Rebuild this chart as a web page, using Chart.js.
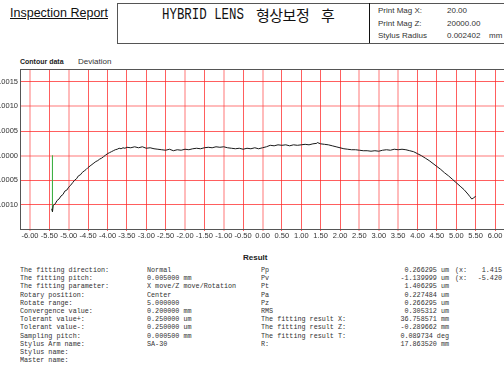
<!DOCTYPE html>
<html>
<head>
<meta charset="utf-8">
<script src="https://cdn.jsdelivr.net/npm/chart.js@4.4.1/dist/chart.umd.min.js"></script>
<style>
html, body { margin: 0; padding: 0; background: #fff; overflow: hidden; }
body { width: 504px; height: 372px; position: relative; font-family: "Liberation Sans", Arial, sans-serif; color: #222; }
.a { position: absolute; white-space: pre; }
#report { left: 10px; top: 6px; font-size: 12.5px; line-height: 14px; text-decoration: underline; color: #111; }
#box { left: 117px; top: 3px; width: 420px; height: 39px; border: 1px solid #555; }
#divider { left: 369px; top: 3px; width: 1px; height: 40px; background: #111; }
#titleEn { left: 162px; top: 5px; font-family: "Liberation Mono", monospace; font-size: 17px; line-height: 20px; transform: scaleX(0.73); transform-origin: left top; color: #111; }
#titleKo { left: 256px; top: 5px; font-family: "Noto Sans CJK KR", sans-serif; font-size: 15px; line-height: 20px; letter-spacing: -0.5px; word-spacing: 9px; color: #111; }
.mag { font-size: 8px; line-height: 12.5px; color: #333; }
#contour { left: 20px; top: 57px; font-size: 7px; font-weight: bold; line-height: 10px; }
#deviation { left: 78px; top: 57px; font-size: 8px; line-height: 10px; color: #333; }
#result { left: 243px; top: 253px; font-size: 8px; font-weight: bold; line-height: 10px; }
.mono { font-family: "Liberation Mono", monospace; font-size: 7.5px; line-height: 8.2px; color: #333; transform: scaleX(0.9); }
.ml { transform-origin: left top; }
.mr { transform-origin: right top; text-align: right; }
canvas { position: absolute; left: 0; top: 60px; }
</style>
</head>
<body>
<div class="a" id="report">Inspection Report</div>
<div class="a" id="box"></div>
<div class="a" id="divider"></div>
<div class="a" id="titleEn">HYBRID LENS</div>
<div class="a" id="titleKo">형상보정 후</div>
<div class="a mag" style="left:378px;top:5px">Print Mag X:
Print Mag Z:
Stylus Radius</div>
<div class="a mag" style="left:447px;top:5px">20.00
20000.00
0.002402</div>
<div class="a mag" style="left:489px;top:30px">mm</div>
<div class="a" id="contour">Contour data</div>
<div class="a" id="deviation">Deviation</div>
<canvas id="c" width="504" height="185"></canvas>
<div class="a" id="result">Result</div>
<div class="a mono ml" style="left:20px;top:266px">The fitting direction:
The fitting pitch:
The fitting parameter:
Rotary position:
Rotate range:
Convergence value:
Tolerant value+:
Tolerant value-:
Sampling pitch:
Stylus Arm name:
Stylus name:
Master name:</div>
<div class="a mono ml" style="left:147px;top:266px">Normal
0.005000 mm
X move/Z move/Rotation
Center
5.000000
0.200000 mm
0.250000 um
0.250000 um
0.000500 mm
SA-30</div>
<div class="a mono ml" style="left:261px;top:266px">Pp
Pv
Pt
Pa
Pz
RMS
The fitting result X:
The fitting result Z:
The fitting result T:
R:</div>
<div class="a mono mr" style="right:55px;top:266px">0.266295 um
-1.139999 um
1.406295 um
0.227484 um
0.266295 um
0.305312 um
36.758571 mm
-0.289662 mm
0.089734 deg
17.863520 mm</div>
<div class="a mono ml" style="left:455px;top:266px">(x:
(x:</div>
<div class="a mono mr" style="right:2px;top:266px">1.415
-5.420</div>
<script>
// measured profile deviation (mm) along X (mm)
const xPos = [-5.44, -5.42, -5.40, -5.35, -5.30, -5.25, -5.20, -5.15, -5.10, -5.05,
  -5.00, -4.95, -4.90, -4.85, -4.80, -4.75, -4.70, -4.65, -4.60, -4.55,
  -4.50, -4.45, -4.40, -4.35, -4.30, -4.25, -4.20, -4.15, -4.10, -4.05,
  -4.00, -3.95, -3.90, -3.85, -3.80, -3.75, -3.70, -3.65, -3.60, -3.55,
  -3.50, -3.40, -3.30, -3.20, -3.10, -3.00, -2.90, -2.80, -2.70, -2.60,
  -2.50, -2.40, -2.30, -2.20, -2.10, -2.00, -1.90, -1.80, -1.70, -1.60,
  -1.50, -1.40, -1.30, -1.20, -1.10, -1.00, -0.90, -0.80, -0.70, -0.60,
  -0.50, -0.40, -0.30, -0.20, -0.10, 0.00, 0.10, 0.20, 0.30, 0.40,
  0.50, 0.60, 0.70, 0.80, 0.90, 1.00, 1.10, 1.20, 1.30, 1.40,
  1.415, 1.50, 1.60, 1.70, 1.80, 1.90, 2.00, 2.10, 2.20, 2.30,
  2.40, 2.50, 2.60, 2.70, 2.80, 2.90, 3.00, 3.10, 3.20, 3.30,
  3.40, 3.50, 3.60, 3.70, 3.80, 3.90, 4.00, 4.10, 4.20, 4.30,
  4.40, 4.50, 4.60, 4.70, 4.80, 4.90, 5.00, 5.10, 5.20, 5.30,
  5.35, 5.40, 5.45, 5.50];
const deviation = [-0.00108, -0.00114, -0.00101, -0.00098, -0.00091, -0.00088, -0.00082, -0.00079, -0.00072, -0.00070,
  -0.00064, -0.00060, -0.00055, -0.00050, -0.00047, -0.00041, -0.00039, -0.00034, -0.00031, -0.00028,
  -0.00024, -0.00021, -0.00018, -0.00015, -0.00012, -0.00010, -0.00007, -0.00005, -0.00002, 0.00001,
  0.00004, 0.00006, 0.00008, 0.00010, 0.00012, 0.00013, 0.00015, 0.00014, 0.00016, 0.00015,
  0.00017, 0.00016, 0.00018, 0.00016, 0.00018, 0.00015, 0.00016, 0.00014, 0.00013, 0.00012,
  0.00011, 0.00013, 0.00010, 0.00012, 0.00011, 0.00013, 0.00012, 0.00014, 0.00015, 0.00014,
  0.00016, 0.00017, 0.00016, 0.00018, 0.00017, 0.00018, 0.00016, 0.00015, 0.00014, 0.00015,
  0.00013, 0.00015, 0.00014, 0.00016, 0.00014, 0.00016, 0.00018, 0.00021, 0.00020, 0.00022,
  0.00021, 0.00022, 0.00020, 0.00022, 0.00021, 0.00022, 0.00023, 0.00022, 0.00024, 0.00025,
  0.000266, 0.00024, 0.00023, 0.00022, 0.00020, 0.00018, 0.00016, 0.00014, 0.00013, 0.00012,
  0.00012, 0.00011, 0.00010, 0.00010, 0.00009, 0.00010, 0.00009, 0.00011, 0.00012, 0.00011,
  0.00013, 0.00012, 0.00013, 0.00012, 0.00010, 0.00008, 0.00004, 0.00000, -0.00005, -0.00010,
  -0.00016, -0.00022, -0.00028, -0.00035, -0.00041, -0.00048, -0.00055, -0.00062, -0.00069, -0.00078,
  -0.00083, -0.00088, -0.00086, -0.00082];

// Pv marker (green)
const pvX = [-5.42, -5.42];
const pvY = [0, -0.00114];

// axis tick values
const xTickValues = [-6, -5.5, -5, -4.5, -4, -3.5, -3, -2.5, -2, -1.5, -1, -0.5, 0,
  0.5, 1, 1.5, 2, 2.5, 3, 3.5, 4, 4.5, 5, 5.5, 6];
const yTickValues = [-0.0010, -0.0005, 0, 0.0005, 0.0010, 0.0015];

// grid lines that look faded in the print
const xFaded = [-6, -5, -2, -1, 0, 2.5, 3, 3.5];
const yFaded = [0.0010, 0];

const gridRed = 'rgba(255,40,40,0.75)';
const gridPink = 'rgba(255,60,60,0.35)';
const isIn = (list, v) => list.some(t => Math.abs(t - v) < 1e-9);

new Chart(document.getElementById('c'), {
    type: 'line',
    data: {
        datasets: [{
            data: xPos.map((x, i) => ({ x: x, y: deviation[i] })),
            borderColor: '#1a1a1a',
            borderWidth: 1,
            pointRadius: 0,
            tension: 0
        }, {
            data: pvX.map((x, i) => ({ x: x, y: pvY[i] })),
            borderColor: '#3fb044',
            borderWidth: 1,
            pointRadius: 0
        }]
    },
    options: {
        responsive: false,
        animation: false,
        devicePixelRatio: 1,
        layout: { padding: { top: 9, left: 0, right: 0, bottom: 0 } },
        plugins: {
            legend: { display: false },
            tooltip: { enabled: false }
        },
        scales: {
            x: {
                type: 'linear',
                min: -6.258,
                max: 6.232,
                afterBuildTicks(s) { s.ticks = xTickValues.map(v => ({ value: v })); },
                afterFit(s) { s.height = 16; s.paddingLeft = 0; s.paddingRight = 0; },
                ticks: {
                    autoSkip: false,
                    maxRotation: 0,
                    padding: 0,
                    color: '#333',
                    font: { family: 'Liberation Sans', size: 7.5 },
                    callback: v => v.toFixed(2)
                },
                grid: {
                    color: ctx => isIn(xFaded, ctx.tick.value) ? gridPink : gridRed,
                    lineWidth: ctx => isIn(xFaded, ctx.tick.value) ? 2 : 1,
                    tickLength: 2
                },
                border: { color: '#555', width: 1 }
            },
            x2: {
                type: 'linear',
                axis: 'x',
                position: 'top',
                afterFit(s) { s.height = 0; s.paddingLeft = 0; s.paddingRight = 0; },
                ticks: { display: false },
                grid: { display: false, drawTicks: false },
                border: { color: '#555', width: 1 }
            },
            y: {
                min: -0.00149,
                max: 0.00176,
                afterBuildTicks(s) { s.ticks = yTickValues.map(v => ({ value: v })); },
                afterFit(s) { s.width = 20; s.paddingTop = 0; s.paddingBottom = 0; },
                ticks: {
                    padding: 2,
                    color: '#333',
                    font: { family: 'Liberation Sans', size: 7.5 },
                    callback: v => v.toFixed(4)
                },
                grid: {
                    color: ctx => isIn(yFaded, ctx.tick.value) ? gridPink : gridRed,
                    lineWidth: ctx => isIn(yFaded, ctx.tick.value) ? 2 : 1,
                    drawTicks: false
                },
                border: { color: '#555', width: 1 }
            }
        }
    }
});
</script>
</body>
</html>
